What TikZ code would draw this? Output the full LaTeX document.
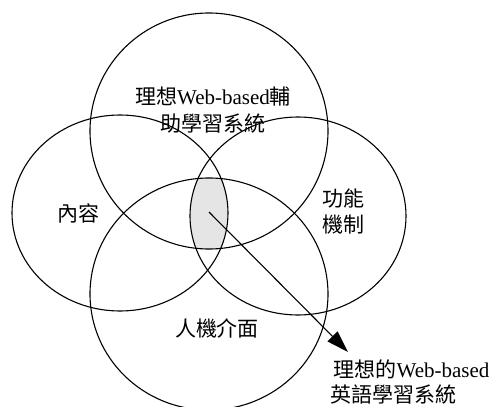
\documentclass[tikz,border=0pt]{standalone}
\usepackage{fontspec}
\setmainfont{Liberation Serif}
\newfontfamily\cjk{Noto Sans CJK TC}
\usetikzlibrary{arrows.meta}
\begin{document}
\begin{tikzpicture}[x=1pt,y=-1pt,
  ring/.style={draw=black,line width=1.1pt},
  lbl/.style={font=\fontsize{21}{26.5}\selectfont,align=center,inner sep=0pt},
  pointer/.style={line width=1.1pt,-{Triangle[length=22pt,width=14pt]}}]
\useasboundingbox (0,0) rectangle (499,407);
\begin{scope}
  \clip (209,131) ellipse [x radius=119,y radius=118];
  \clip (120,213) ellipse [x radius=108,y radius=98];
  \clip (298,216) ellipse [x radius=108,y radius=99];
  \clip (209,294) ellipse [x radius=119,y radius=116];
  \fill[black!10] (0,0) rectangle (499,407);
\end{scope}
\draw[ring] (209,131) ellipse [x radius=119,y radius=118];
\draw[ring] (120,213) ellipse [x radius=108,y radius=98];
\draw[ring] (298,216) ellipse [x radius=108,y radius=99];
\draw[ring] (209,294) ellipse [x radius=119,y radius=116];
\node[lbl] (ideal) at (213,110) {{\cjk 理想}Web-based{\cjk 輔}\\{\cjk 助學習系統}};
\node[lbl] (content) at (78,213) {\cjk 內容};
\node[lbl] (func) at (343,211.5) {{\cjk 功能}\\{\cjk 機制}};
\node[lbl] (hci) at (217,328) {\cjk 人機介面};
\node[lbl,anchor=west,align=left,font=\fontsize{21}{24.5}\selectfont] (result) at (330,382) {\,{\cjk 理想的}Web-based\\{\cjk 英語學習系統}};
\coordinate (core) at (209,212);
\coordinate (tip) at (348,352);
\draw[pointer] (core) -- (tip);
\end{tikzpicture}
\end{document}
